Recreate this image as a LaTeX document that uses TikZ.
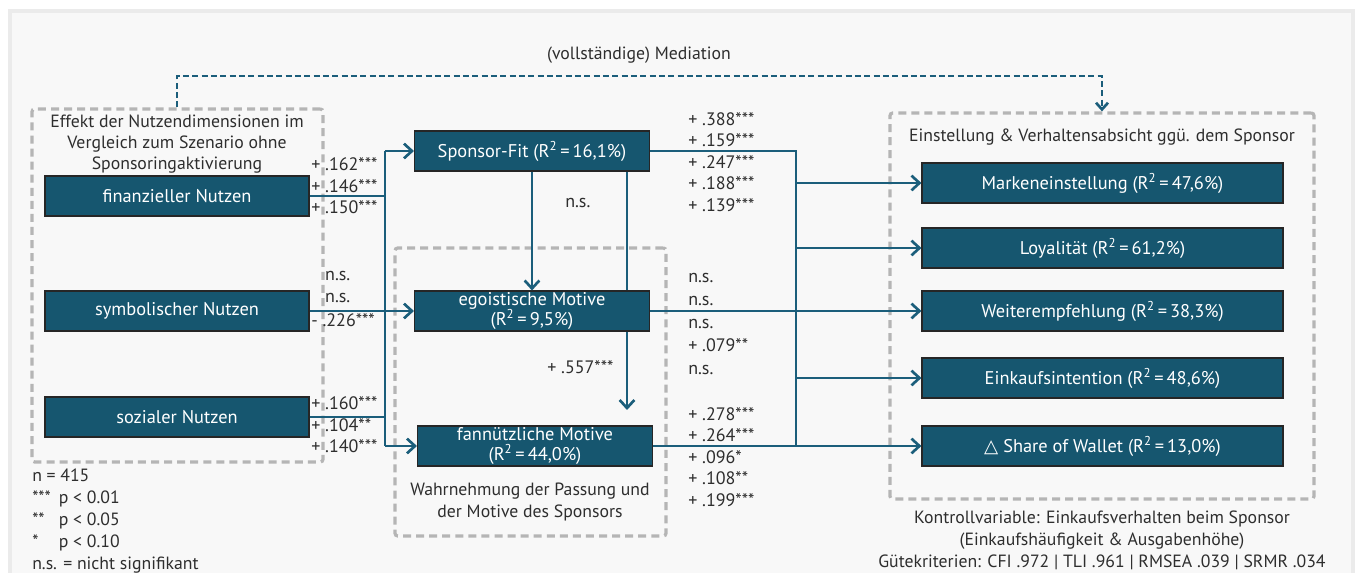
\documentclass[tikz,border=0pt]{standalone}
\usepackage{fontspec}
\setmainfont{PT Sans}
\newfontfamily\trifont{DejaVu Sans}
\usetikzlibrary{positioning,arrows.meta}
\definecolor{boxblue}{HTML}{16566F}
\definecolor{linkblue}{HTML}{1B5E7B}
\definecolor{framegrey}{HTML}{B5B5B5}
\definecolor{panelgrey}{HTML}{F8F8F8}
\definecolor{paneledge}{HTML}{EBEBEB}
\definecolor{txtgrey}{HTML}{2E2E2E}
\tikzset{
    nbox/.style={draw=black!85, line width=0.8pt, fill=boxblue, text=white, minimum height=30pt, inner sep=0pt, align=center, font=\fontsize{13.8}{15.6}\selectfont},
    grpframe/.style={draw=framegrey, line width=2.4pt, dash pattern=on 6pt off 3.8pt, rounded corners=2pt, inner sep=0pt},
    link/.style={draw=linkblue, line width=2pt},
    arr/.style={link, -{Straight Barb[length=6pt,width=11pt]}},
    med/.style={draw=linkblue, line width=2pt, dash pattern=on 4.5pt off 2.5pt, -{Straight Barb[length=5pt,width=9pt]}},
    coef/.style={anchor=west, inner sep=0pt, align=left, text=txtgrey, font=\fontsize{13.5}{16.2}\selectfont},
    note/.style={inner sep=0pt, align=center, text=txtgrey, font=\fontsize{13.3}{15.6}\selectfont}
}
\newcommand{\rsq}[1]{(R\textsuperscript{2}\,=\,#1)}

\begin{document}
\begin{tikzpicture}[x=0.75pt, y=-0.75pt]
            \useasboundingbox (0,0) rectangle (1357,573);
            \fill[white] (0,0) rectangle (1357,573);
            \draw[fill=panelgrey, draw=paneledge, line width=3pt] (10,11) rectangle (1353,600);

            \node[grpframe, minimum width=218.25pt, minimum height=264.75pt] (grpL) at (177.5,285.5) {};
            \node[grpframe, minimum width=203.25pt, minimum height=216pt] (grpM) at (530.5,392) {};
            \node[grpframe, minimum width=318pt, minimum height=289.5pt] (grpR) at (1102,306) {};

            \node[nbox, minimum width=198pt] (fin) at (177,196) {finanzieller Nutzen};
            \node[nbox, minimum width=198pt] (sym) at (177,311) {symbolischer Nutzen};
            \node[nbox, minimum width=198pt] (soz) at (177,417) {sozialer Nutzen};

            \node[nbox, minimum width=176.25pt] (fit) at (532,151) {Sponsor-Fit \rsq{16,1\%}};
            \node[nbox, minimum width=176.25pt] (ego) at (532,311) {egoistische Motive\\\rsq{9,5\%}};
            \node[nbox, minimum width=176.25pt] (fan) at (535,446) {fannützliche Motive\\\rsq{44,0\%}};

            \node[nbox, minimum width=270.75pt] (mark) at (1102.5,183) {Markeneinstellung \rsq{47,6\%}};
            \node[nbox, minimum width=270.75pt] (loy) at (1102.5,248) {Loyalität \rsq{61,2\%}};
            \node[nbox, minimum width=270.75pt] (weit) at (1102.5,311) {Weiterempfehlung \rsq{38,3\%}};
            \node[nbox, minimum width=270.75pt] (kauf) at (1102.5,378) {Einkaufsintention \rsq{48,6\%}};
            \node[nbox, minimum width=270.75pt] (sow) at (1102.5,446) {{\trifont △} Share of Wallet \rsq{13,0\%}};

            \coordinate (busL) at (385,0);
            \coordinate (busR) at (796,0);
            \coordinate (dropX) at (627,410);
            \coordinate (medL) at (177,76);
            \coordinate (medR) at (1102,76);

            \draw[link] (fin.east) -- (fin.east -| busL);
            \draw[link] (soz.east) -- (soz.east -| busL);
            \draw[link] (fit.west -| busL) -- (fan.west -| busL);
            \draw[arr] (fit.west -| busL) -- (fit.west);
            \draw[arr] (sym.east) -- (ego.west);
            \draw[arr] (fan.west -| busL) -- (fan.west);

            \draw[arr] (fit.south) -- (ego.north);
            \draw[link] (fit.south -| dropX) -- (ego.north -| dropX);
            \draw[arr] (ego.south -| dropX) -- (dropX);

            \draw[link] (fit.east) -- (fit.east -| busR) -- (fan.east -| busR);
            \draw[arr] (ego.east) -- (weit.west);
            \draw[arr] (fan.east) -- (sow.west);
            \draw[arr] (mark.west -| busR) -- (mark.west);
            \draw[arr] (loy.west -| busR) -- (loy.west);
            \draw[arr] (kauf.west -| busR) -- (kauf.west);

            \draw[med] (grpL.north -| medL) -- (medL) -- (medR) -- (grpR.north);
            \node[note] (medtxt) at (639,55) {(vollständige) Mediation};

            \node[note] (ttlL) at (177,144) {Effekt der Nutzendimensionen im\\Vergleich zum Szenario ohne\\Sponsoringaktivierung};
            \node[note, font=\fontsize{13.3}{16.5}\selectfont] (ttlM) at (530,502) {Wahrnehmung der Passung und\\der Motive des Sponsors};
            \node[note] (ttlR) at (1102,137) {Einstellung \& Verhaltensabsicht ggü. dem Sponsor};
            \node[note, font=\fontsize{13.3}{16.5}\selectfont] (ctrl) at (1102,540) {Kontrollvariable: Einkaufsverhalten beim Sponsor\\(Einkaufshäufigkeit \& Ausgabenhöhe)\\Gütekriterien: CFI .972 | TLI .961 | RMSEA .039 | SRMR .034};

            \node[coef] (cFin) at (311,186) {+ .162***\\+ .146***\\+ .150***};
            \node[coef] (cSym) at (311,299) {\phantom{+ }n.s.\\\phantom{+ }n.s.\\[2pt]- .226***};
            \node[coef] (cSoz) at (311,425) {+ .160***\\+ .104**\\+ .140***};
            \node[coef] (cFitEgo) at (565,203) {n.s.};
            \node[coef] (cEgoFan) at (547,367) {+ .557***};
            \node[coef] (cFit) at (688,162) {+ .388***\\+ .159***\\+ .247***\\+ .188***\\+ .139***};
            \node[coef, font=\fontsize{13.5}{17.2}\selectfont] (cEgo) at (688,324) {n.s.\\n.s.\\n.s.\\+ .079**\\n.s.};
            \node[coef] (cFan) at (688,457) {+ .278***\\+ .264***\\+ .096*\\+ .108**\\+ .199***};

            \node[coef, font=\fontsize{13.3}{16.5}\selectfont] (legend) at (32,521) {n = 415\\\makebox[20pt][l]{***}p < 0.01\\\makebox[20pt][l]{**}p < 0.05\\\makebox[20pt][l]{*}p < 0.10\\n.s. = nicht signifikant};
        \end{tikzpicture}
\end{document}
